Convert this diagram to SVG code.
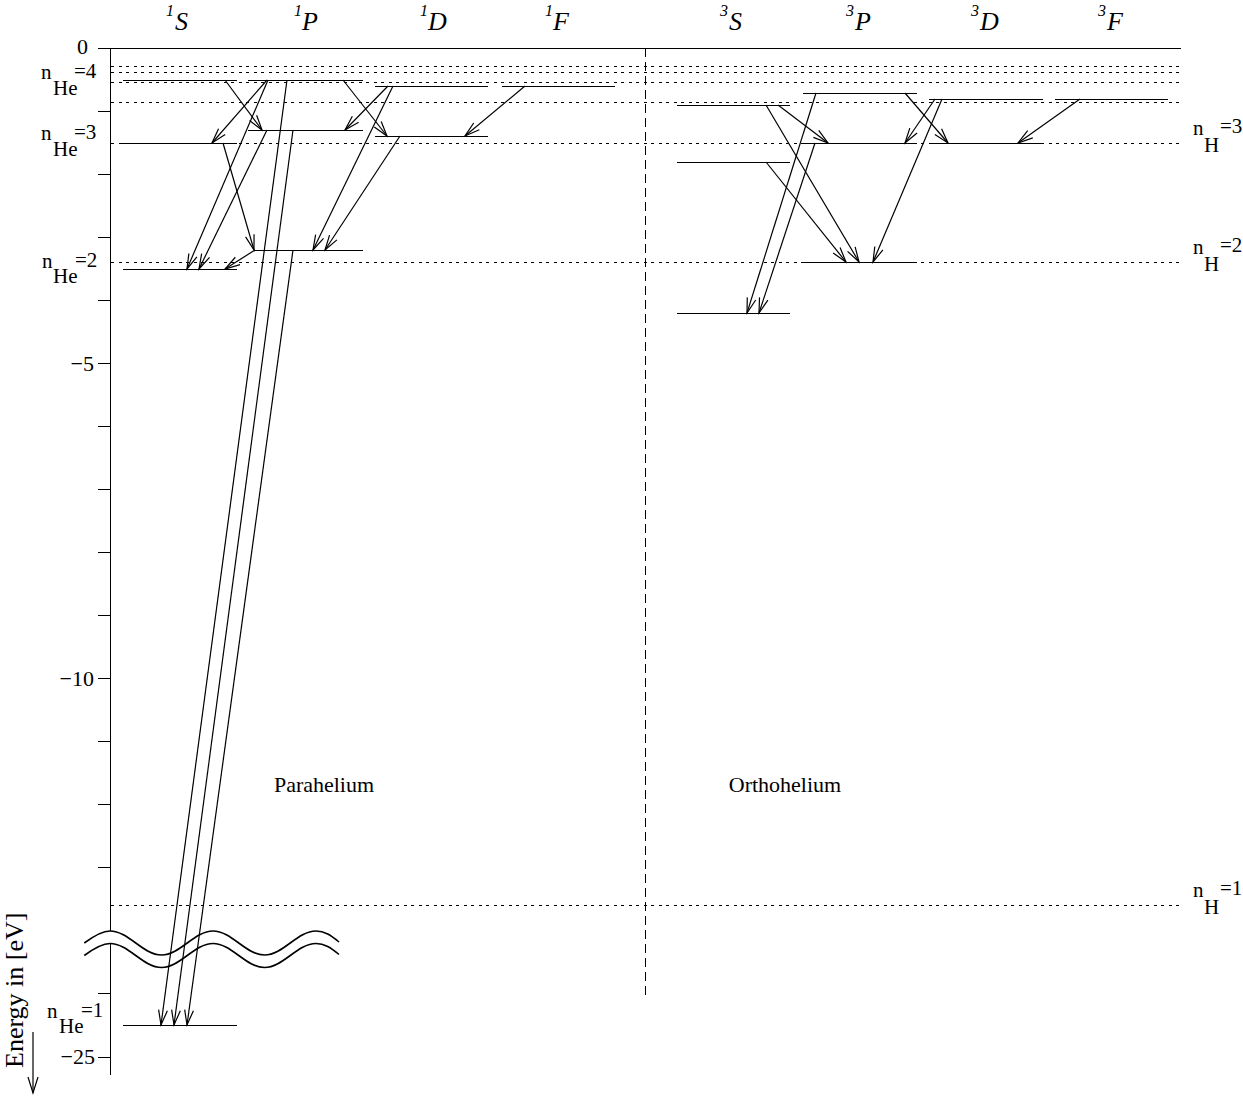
<svg xmlns="http://www.w3.org/2000/svg" width="1243" height="1096" viewBox="0 0 1243 1096">
<style>
.ln{stroke:#000;stroke-width:1;fill:none;shape-rendering:crispEdges}
.wv{stroke:#000;stroke-width:1.6;fill:none}
.dot{stroke:#000;stroke-width:1;stroke-dasharray:3 4.5;fill:none;shape-rendering:crispEdges}
.dash{stroke:#000;stroke-width:1;stroke-dasharray:9 5;fill:none;shape-rendering:crispEdges}
.tr{stroke:#000;stroke-width:1.2;fill:none;marker-end:url(#ah)}
text{font-family:"Liberation Serif","Times New Roman",serif;fill:#000}
.hd{font-style:italic;font-size:26px}
.sup{font-style:italic;font-size:16px}
.num{font-size:22px;text-anchor:end}
.lb{font-size:21px}
.nm{font-size:22px;text-anchor:middle}
</style>
<defs>
<marker id="ah" viewBox="-17 -6 19 12" refX="0" refY="0" markerWidth="19" markerHeight="12" markerUnits="userSpaceOnUse" orient="auto">
<path d="M-15,-4.4 L0,0 L-15,4.4" fill="none" stroke="#000" stroke-width="1.2"/>
</marker>
<marker id="ah2" viewBox="-19 -7 21 14" refX="0" refY="0" markerWidth="21" markerHeight="14" markerUnits="userSpaceOnUse" orient="auto">
<path d="M-16,-5 L0,0 L-16,5" fill="none" stroke="#000" stroke-width="1.2"/>
</marker>
</defs>
<rect width="1243" height="1096" fill="#fff"/>

<g id="headers">
<text class="sup" x="166" y="16">1</text><text class="hd" x="175" y="30">S</text>
<text class="sup" x="294" y="16">1</text><text class="hd" x="302" y="30">P</text>
<text class="sup" x="420" y="16">1</text><text class="hd" x="428" y="30">D</text>
<text class="sup" x="545" y="16">1</text><text class="hd" x="553" y="30">F</text>
<text class="sup" x="720" y="16">3</text><text class="hd" x="729" y="30">S</text>
<text class="sup" x="846" y="16">3</text><text class="hd" x="855" y="30">P</text>
<text class="sup" x="971" y="16">3</text><text class="hd" x="980" y="30">D</text>
<text class="sup" x="1098" y="16">3</text><text class="hd" x="1107" y="30">F</text>
</g>

<g id="hydrogen-levels">
<line class="dot" x1="111" y1="66" x2="1181" y2="66"/>
<line class="dot" x1="111" y1="72" x2="1181" y2="72"/>
<line class="dot" x1="111" y1="82.5" x2="1181" y2="82.5"/>
<line class="dot" x1="111" y1="102" x2="1181" y2="102"/>
<line class="dot" x1="111" y1="143" x2="1181" y2="143"/>
<line class="dot" x1="111" y1="262" x2="1181" y2="262"/>
<line class="dot" x1="111" y1="905" x2="1181" y2="905"/>
</g>

<g id="axis">
<line class="ln" x1="98" y1="48" x2="1181" y2="48"/>
<line class="ln" x1="110" y1="48" x2="110" y2="931"/>
<line class="ln" x1="110" y1="943" x2="110" y2="1075"/>
<path class="ln" d="M98,111H110M98,174H110M98,237H110M98,300H110M98,363H110M98,426H110M98,489H110M98,552H110M98,615H110M98,678H110M98,741H110M98,804H110M98,867H110M98,993H110M98,1057H110"/>
<text class="num" x="88" y="54">0</text>
<text class="num" x="94" y="371">−5</text>
<text class="num" x="94" y="686">−10</text>
<text class="num" x="95" y="1064">−25</text>
<text x="23" y="1068" font-size="26" transform="rotate(-90 23 1068)">Energy in [eV]</text>
<line x1="33" y1="1032" x2="33" y2="1093" stroke="#000" stroke-width="1.2" marker-end="url(#ah2)"/>
<line class="dash" x1="645" y1="48" x2="645" y2="995"/>
</g>

<g id="break">
<path class="wv" d="M84.3,943 C92.8,936.7 101.4,931 110,931 C128.7,931 142.8,955 161.5,955 C180.2,955 194.3,931 213,931 C231.7,931 245.8,955 264.5,955 C283.2,955 297.3,931 316,931 C324.6,931 331,935.5 339,942"/>
<path class="wv" d="M84.3,955.5 C92.8,949.2 101.4,943.5 110,943.5 C128.7,943.5 142.8,967.5 161.5,967.5 C180.2,967.5 194.3,943.5 213,943.5 C231.7,943.5 245.8,967.5 264.5,967.5 C283.2,967.5 297.3,943.5 316,943.5 C324.6,943.5 331,948 339,954.5"/>
</g>

<g id="labels">
<g id="lab-nHe4"><text class="lb" x="41" y="79">n</text><text class="lb" x="53" y="95">He</text><text class="lb" x="74" y="78">=4</text></g>
<g id="lab-nHe3"><text class="lb" x="41" y="140">n</text><text class="lb" x="53" y="156">He</text><text class="lb" x="74" y="139">=3</text></g>
<g id="lab-nHe2"><text class="lb" x="42" y="268">n</text><text class="lb" x="53" y="283">He</text><text class="lb" x="75" y="267">=2</text></g>
<g id="lab-nHe1"><text class="lb" x="47" y="1018">n</text><text class="lb" x="59" y="1033">He</text><text class="lb" x="81" y="1017">=1</text></g>
<g id="lab-nH3"><text class="lb" x="1193" y="135">n</text><text class="lb" x="1204" y="152">H</text><text class="lb" x="1220" y="133">=3</text></g>
<g id="lab-nH2"><text class="lb" x="1193" y="254">n</text><text class="lb" x="1204" y="271">H</text><text class="lb" x="1220" y="252">=2</text></g>
<g id="lab-nH1"><text class="lb" x="1193" y="897">n</text><text class="lb" x="1204" y="914">H</text><text class="lb" x="1220" y="895">=1</text></g>
<text class="nm" x="324" y="792">Parahelium</text>
<text class="nm" x="785" y="792">Orthohelium</text>
</g>

<g id="lvl-1S-4"><line class="ln" x1="123" y1="80" x2="237" y2="80"/></g>
<g id="lvl-1S-3"><line class="ln" x1="122" y1="143" x2="237" y2="143"/></g>
<g id="lvl-1S-2"><line class="ln" x1="123" y1="269" x2="237" y2="269"/></g>
<g id="lvl-1S-1"><line class="ln" x1="123" y1="1025" x2="237" y2="1025"/></g>
<g id="lvl-1P-4"><line class="ln" x1="248" y1="80" x2="363" y2="80"/></g>
<g id="lvl-1P-3"><line class="ln" x1="248" y1="130" x2="363" y2="130"/></g>
<g id="lvl-1P-2"><line class="ln" x1="255" y1="250" x2="363" y2="250"/></g>
<g id="lvl-1D-4"><line class="ln" x1="375" y1="86" x2="488" y2="86"/></g>
<g id="lvl-1D-3"><line class="ln" x1="375" y1="136" x2="488" y2="136"/></g>
<g id="lvl-1F-4"><line class="ln" x1="502" y1="86" x2="615" y2="86"/></g>
<g id="lvl-3S-4"><line class="ln" x1="677" y1="105" x2="790" y2="105"/></g>
<g id="lvl-3S-3"><line class="ln" x1="677" y1="162" x2="790" y2="162"/></g>
<g id="lvl-3S-2"><line class="ln" x1="677" y1="313" x2="790" y2="313"/></g>
<g id="lvl-3P-4"><line class="ln" x1="803" y1="93" x2="917" y2="93"/></g>
<g id="lvl-3P-3"><line class="ln" x1="802" y1="143" x2="917" y2="143"/></g>
<g id="lvl-3P-2"><line class="ln" x1="802" y1="262" x2="917" y2="262"/></g>
<g id="lvl-3D-4"><line class="ln" x1="929" y1="99" x2="1043" y2="99"/></g>
<g id="lvl-3D-3"><line class="ln" x1="929" y1="143" x2="1043" y2="143"/></g>
<g id="lvl-3F-4"><line class="ln" x1="1055" y1="99" x2="1168" y2="99"/></g>

<g id="transitions">
<line class="tr" x1="225" y1="80" x2="262" y2="130"/>
<line class="tr" x1="267" y1="80" x2="212" y2="143"/>
<line class="tr" x1="268" y1="80" x2="187" y2="269"/>
<line class="tr" x1="267" y1="130" x2="199" y2="269"/>
<line class="tr" x1="287" y1="80" x2="161" y2="1025"/>
<line class="tr" x1="293" y1="130" x2="174" y2="1025"/>
<line class="tr" x1="293" y1="250" x2="187" y2="1025"/>
<line class="tr" x1="223" y1="143" x2="254" y2="250"/>
<line class="tr" x1="255" y1="250" x2="225" y2="269"/>
<line class="tr" x1="343" y1="80" x2="387" y2="136"/>
<line class="tr" x1="388" y1="86" x2="345" y2="130"/>
<line class="tr" x1="393" y1="86" x2="313" y2="250"/>
<line class="tr" x1="400" y1="136" x2="325" y2="250"/>
<line class="tr" x1="525" y1="86" x2="465" y2="136"/>
<line class="tr" x1="766" y1="105" x2="859" y2="262"/>
<line class="tr" x1="778" y1="105" x2="828" y2="143"/>
<line class="tr" x1="766" y1="162" x2="846" y2="262"/>
<line class="tr" x1="816" y1="93" x2="747" y2="313"/>
<line class="tr" x1="815" y1="143" x2="759" y2="313"/>
<line class="tr" x1="905" y1="93" x2="948" y2="143"/>
<line class="tr" x1="935" y1="99" x2="905" y2="143"/>
<line class="tr" x1="942" y1="99" x2="873" y2="262"/>
<line class="tr" x1="1080" y1="99" x2="1018" y2="143"/>
</g>
</svg>
